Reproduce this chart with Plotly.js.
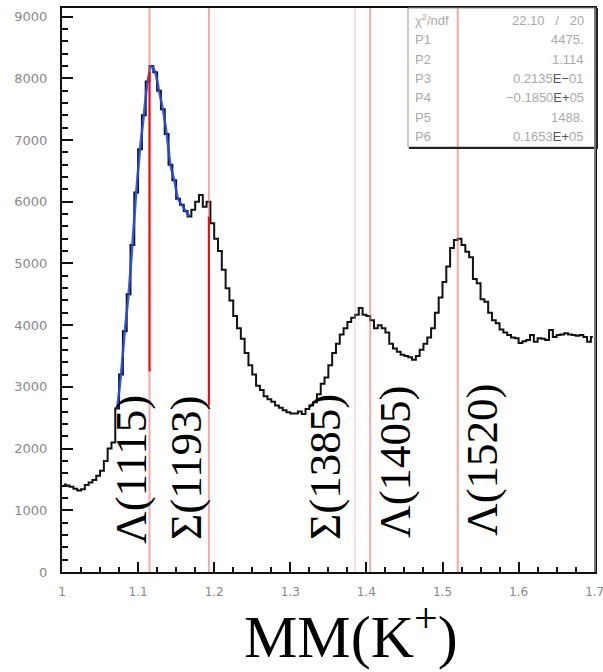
<!DOCTYPE html>
<html>
<head>
<meta charset="utf-8">
<script src="https://cdn.plot.ly/plotly-3.0.1.min.js"></script>
<style>
  html, body { margin: 0; padding: 0; background: #fff; }
  #chart { width: 603px; height: 672px; }
</style>
</head>
<body>
<div id="chart"></div>
<script>
// Missing-mass spectrum MM(K+), GeV, histogram with 0.005 GeV bins from 1.0 to 1.7
const binLow = 1.0;
const binWidth = 0.005;
const counts = [
  1420, 1400, 1380, 1350, 1320, 1340, 1410, 1450, 1490, 1560,
  1640, 1800, 2000, 2100, 2650, 3200, 3900, 4500, 5300, 6150,
  6850, 7400, 7950, 8200, 8100, 7800, 7500, 7100, 6600, 6350,
  6050, 5950, 5850, 5760, 5870, 6000, 6110, 5920, 6000, 5650,
  5400, 5200, 4900, 4600, 4400, 4150, 3950, 3780, 3550, 3350,
  3200, 3020, 2950, 2850, 2800, 2760, 2700, 2660, 2620, 2590,
  2570, 2570, 2600, 2560, 2640, 2700, 2750, 2880, 3050, 3150,
  3350, 3550, 3700, 3850, 3950, 4050, 4120, 4170, 4280, 4170,
  4150, 4080, 3950, 4000, 3950, 3880, 3700, 3620, 3570, 3520,
  3500, 3480, 3440, 3500, 3600, 3700, 3800, 3950, 4200, 4450,
  4700, 4950, 5250, 5380, 5400, 5300, 5190, 5100, 4750, 4680,
  4420, 4380, 4200, 4080, 4030, 3930, 3880, 3840, 3800, 3790,
  3710, 3740, 3760, 3840, 3730, 3790, 3780, 3760, 3920, 3810,
  3840, 3850, 3870, 3850, 3840, 3830, 3840, 3810, 3730, 3810
];

// Fit window around the Lambda(1115) peak
const fitLow = 1.07;
const fitHigh = 1.17;

// Fit summary box
const statNames = ['χ<sup>2</sup>/ndf', 'P1', 'P2', 'P3', 'P4', 'P5', 'P6'];
const statValues = ['22.10   /   20', '4475.', '1.114', '0.2135E−01', '−0.1850E+05', '1488.', '0.1653E+05'];

// Hyperon masses marked on the spectrum (GeV)
const hyperonNames = ['Λ(1115)', 'Σ(1193)', 'Σ(1385)', 'Λ(1405)', 'Λ(1520)'];
const hyperonMasses = [1.115, 1.193, 1.385, 1.405, 1.520];
// Emphasised red segments on the first two mass lines (counts)
const segMasses = [1.115, 1.193];
const segLow = [3250, 2700];
const segHigh = [8100, 5760];

const xTickVals = [1, 1.1, 1.2, 1.3, 1.4, 1.5, 1.6, 1.7];
const xTickText = ['1', '1.1', '1.2', '1.3', '1.4', '1.5', '1.6', '1.7'];
const yTickVals = [0, 1000, 2000, 3000, 4000, 5000, 6000, 7000, 8000, 9000];

const centres = counts.map((_, i) => +(binLow + (i + 0.5) * binWidth).toFixed(4));
const fitX = [], fitY = [];
centres.forEach((c, i) => { if (c >= fitLow && c <= fitHigh) { fitX.push(c); fitY.push(counts[i]); } });

const histTrace = {
  type: 'scatter', mode: 'lines',
  x: centres, y: counts,
  line: { shape: 'hvh', color: '#111', width: 2 },
  hoverinfo: 'skip'
};
const fitTrace = {
  type: 'scatter', mode: 'lines',
  x: fitX, y: fitY,
  line: { shape: 'spline', smoothing: 0.6, color: 'rgba(40,75,220,0.9)', width: 2.5 },
  hoverinfo: 'skip'
};

// Plot-area geometry in pixels, for the summary box placement
const W = 603, H = 672, mL = 62, mR = 8, mT = 8, mB = 100;
const pw = W - mL - mR, ph = H - mT - mB;
const px = v => (v - mL) / pw;
const py = v => (H - mB - v) / ph;

const shapes = [];
hyperonMasses.forEach((m, i) => {
  shapes.push({
    type: 'line', xref: 'x', yref: 'paper', x0: m, x1: m, y0: 0, y1: 1,
    line: { color: i === 2 ? 'rgba(245,170,170,0.35)' : 'rgba(238,110,110,0.6)', width: 2 },
    layer: 'above'
  });
});
segMasses.forEach((m, i) => {
  shapes.push({
    type: 'line', xref: 'x', yref: 'y', x0: m, x1: m, y0: segLow[i], y1: segHigh[i],
    line: { color: '#ff0000', width: 2 }, layer: 'above'
  });
});
// summary box frame with a dark drop edge on the right and bottom
shapes.push({ type: 'rect', xref: 'paper', yref: 'paper', x0: px(408), x1: px(596), y0: py(147), y1: py(8),
  line: { color: '#999', width: 1 }, fillcolor: 'rgba(0,0,0,0)' });
shapes.push({ type: 'line', xref: 'paper', yref: 'paper', x0: px(597), x1: px(597), y0: py(149), y1: py(8),
  line: { color: '#222', width: 2 } });
shapes.push({ type: 'line', xref: 'paper', yref: 'paper', x0: px(409), x1: px(598), y0: py(148), y1: py(148),
  line: { color: '#222', width: 2 } });
// grey right-hand frame edge
shapes.push({ type: 'line', xref: 'paper', yref: 'paper', x0: 1, x1: 1, y0: 0, y1: 1,
  line: { color: '#777', width: 2 } });

const annotations = [];
const labelPos = [[131, 470], [186, 468], [325, 467], [395, 462], [482, 460]];
hyperonNames.forEach((n, i) => {
  annotations.push({
    text: n, xref: 'paper', yref: 'paper',
    x: px(labelPos[i][0]), y: py(labelPos[i][1]),
    xanchor: 'center', yanchor: 'middle', textangle: -90, showarrow: false,
    font: { family: '"Liberation Serif", "Times New Roman", serif', size: 45, color: '#000' }
  });
});
const rowY = [20, 39.5, 59, 78.5, 98, 117.5, 137];
statNames.forEach((n, i) => {
  annotations.push({
    text: n, xref: 'paper', yref: 'paper', x: px(413), y: py(rowY[i]),
    xanchor: 'left', yanchor: 'middle', showarrow: false,
    font: { family: '"Liberation Sans", Arial, sans-serif', size: 13, color: '#aaa' }
  });
  const v = statValues[i].replace(/E([−+])/g, '<span style="color:#555">E$1</span>');
  annotations.push({
    text: v, xref: 'paper', yref: 'paper', x: px(586), y: py(rowY[i]),
    xanchor: 'right', yanchor: 'middle', showarrow: false,
    font: { family: '"Liberation Sans", Arial, sans-serif', size: 13, color: '#aaa' }
  });
});
// x-axis title
annotations.push({
  text: 'MM(K<sup>+</sup>)', xref: 'paper', yref: 'paper', x: px(351), y: py(632),
  xanchor: 'center', yanchor: 'middle', showarrow: false,
  font: { family: '"Liberation Serif", "Times New Roman", serif', size: 60, color: '#000' }
});

const layout = {
  width: W, height: H,
  margin: { l: mL, r: mR, t: mT, b: mB, pad: 0 },
  paper_bgcolor: '#fff', plot_bgcolor: '#fff',
  showlegend: false,
  xaxis: {
    range: [1, 1.7004], tickmode: 'array', tickvals: xTickVals, ticktext: xTickText,
    ticks: 'inside', ticklen: 10, tickwidth: 2, tickcolor: '#111',
    minor: { dtick: 0.025, ticks: 'inside', ticklen: 5, tickwidth: 2, tickcolor: '#111' },
    showline: true, linecolor: '#111', linewidth: 2, mirror: true,
    showgrid: false, zeroline: false, ticklabelstandoff: 8, ticklabeloverflow: 'allow',
    tickfont: { family: 'DejaVu Sans, sans-serif', size: 12, color: '#888' }
  },
  yaxis: {
    range: [0, 9140], tickmode: 'array', tickvals: yTickVals,
    ticks: 'inside', ticklen: 11, tickwidth: 2, tickcolor: '#111',
    minor: { dtick: 200, ticks: 'inside', ticklen: 6, tickwidth: 2, tickcolor: '#111' },
    showline: true, linecolor: '#111', linewidth: 2, mirror: true,
    showgrid: false, zeroline: false, ticklabelstandoff: 10,
    tickfont: { family: 'DejaVu Sans, sans-serif', size: 13, color: '#888' }
  },
  shapes: shapes,
  annotations: annotations
};

Plotly.newPlot('chart', [histTrace, fitTrace], layout, { displayModeBar: false, staticPlot: true });
</script>
</body>
</html>
